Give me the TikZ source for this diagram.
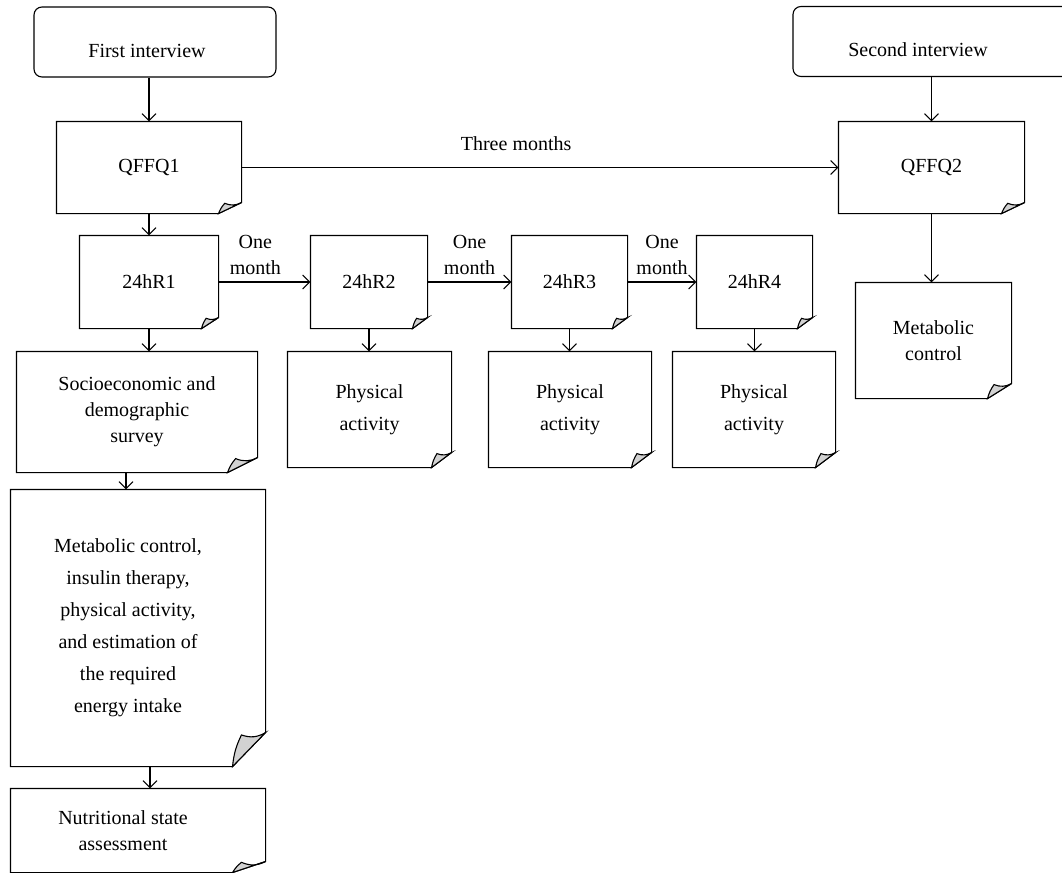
\documentclass[tikz,border=0pt]{standalone}
\usepackage{fontspec}
\setmainfont{Liberation Serif}
\usetikzlibrary{arrows.meta,calc}

\begin{document}
\begin{tikzpicture}[x=0.5pt,y=-0.5pt,>={Straight Barb[length=3.5pt,width=7pt]},line width=0.55pt,
 font=\fontsize{10}{13}\selectfont,
 term/.style={draw,rounded corners=4pt,minimum height=35pt,inner sep=0pt,text height=15pt,text depth=0pt},
 doc/.style={align=center,inner sep=0pt},
 tall/.style={font=\fontsize{10}{16}\selectfont}]
\useasboundingbox (0,0) rectangle (1062,873);
\clip (0,0) rectangle (1062,873);
\node[term,minimum width=121pt] (fi) at (155,42) {First interview\kern8pt};
\node[term,minimum width=140pt] (si) at (933,41.5) {Second interview\kern15pt};
\node[doc,minimum width=92pt,minimum height=45.5pt] (q1) at (149,167.5) {QFFQ1};
\node[doc,minimum width=92.5pt,minimum height=45.5pt] (q2) at (931.5,167.5) {QFFQ2};
\node[doc,minimum width=69pt,minimum height=46pt] (r1) at (149,282) {24hR1};
\node[doc,minimum width=58pt,minimum height=46pt] (r2) at (369,282) {24hR2};
\node[doc,minimum width=57.5pt,minimum height=46pt] (r3) at (569.5,282) {24hR3};
\node[doc,minimum width=57.5pt,minimum height=46pt] (r4) at (754.5,282) {24hR4};
\node[doc,tall,minimum width=81.5pt,minimum height=57.5pt] (p2) at (369.5,409.5) {Physical\\activity};
\node[doc,tall,minimum width=81pt,minimum height=57.5pt] (p3) at (570,409.5) {Physical\\activity};
\node[doc,tall,minimum width=81pt,minimum height=57.5pt] (p4) at (754,409.5) {Physical\\activity};
\node[doc,minimum width=77.5pt,minimum height=57.5pt] (mc) at (933.5,340.5) {Metabolic\\control};
\node[doc,minimum width=120pt,minimum height=60pt] (se) at (137,412) {Socioeconomic and\\demographic\\survey};
\node[doc,tall,minimum width=127pt,minimum height=138pt] (mb) at (138,628) {Metabolic control,\kern10pt\\insulin therapy,\kern10pt\\physical activity,\kern10pt\\and estimation of\kern10pt\\the required\kern10pt\\energy intake\kern10pt};
\node[doc,minimum width=127pt,minimum height=41.5pt] (ns) at (138,830.5) {Nutritional state\kern15pt\\assessment\kern15pt};
% paper sheets with a turned corner
\foreach \n/\fw/\fh in {q1/23/11,q2/23/11,r1/17/11,r2/15/11,r3/15/11,r4/15/11,p2/20/15,p3/20/15,p4/20/15,mc/24/15,se/30/15,mb/33/34,ns/33/11}{
 \draw (\n.north west) -- (\n.north east) -- ($(\n.south east)+(0,-\fh)$) coordinate (a) -- ($(\n.south east)+(-\fw,0)$) coordinate (b) -- (\n.south west) -- cycle;
 \filldraw[fill=gray!35] (b) to[bend left=10] ($(\n.south east)+(-0.73*\fw,-0.93*\fh)$) to[bend right=25] (a) -- cycle;
}
\draw[->] (q1.north |- fi.south) -- (q1.north);
\draw[->] (q1) -- (r1);
\draw[->] (r1.south) -- (r1.south |- se.north);
\draw[->] ([xshift=-5.5pt]se.south) -- ([xshift=-5.5pt]se.south |- mb.north);
\draw[->] ([xshift=6pt]mb.south) -- ([xshift=6pt]mb.south |- ns.north);
\draw[->] (r1) -- node[above,align=center,pos=0.4]{One\\month} (r2);
\draw[->] (r2) -- node[above,align=center]{One\\month} (r3);
\draw[->] (r3) -- node[above,align=center]{One\\month} (r4);
\draw[->] (r2.south) -- (r2.south |- p2.north);
\draw[->] (r3.south) -- (r3.south |- p3.north);
\draw[->] (r4.south) -- (r4.south |- p4.north);
\draw[->] (q1) -- node[above=5pt,pos=0.46]{Three months} (q2);
\draw[->] (q2.north |- si.south) -- (q2.north);
\draw[->] (q2.south) -- (q2.south |- mc.north);
\end{tikzpicture}
\end{document}
